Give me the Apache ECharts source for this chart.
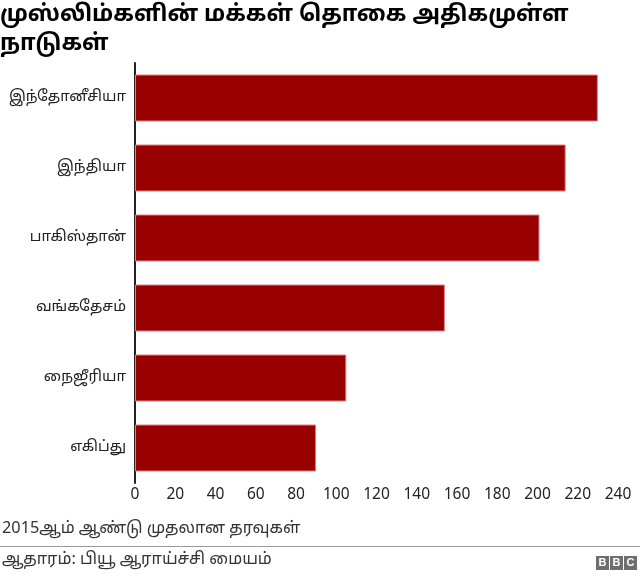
<!DOCTYPE html>
<html>
<head>
<meta charset="utf-8">
<script src="https://cdn.jsdelivr.net/npm/echarts@6/dist/echarts.min.js"></script>
<style>
  html, body { margin: 0; padding: 0; background: #fff; }
  #chart { width: 640px; height: 577px; }
</style>
</head>
<body>
<div id="chart"></div>
<script>
// countries, top to bottom
const countries = ['இந்தோனீசியா', 'இந்தியா', 'பாகிஸ்தான்', 'வங்கதேசம்', 'நைஜீரியா', 'எகிப்து']
// muslim population, millions (2015)
const population = [230, 214, 201, 154, 105, 90]
const xMin = 0
const xMax = 240
const xStep = 20

const titleText = 'முஸ்லிம்களின் மக்கள் தொகை அதிகமுள்ள\nநாடுகள்'
const noteText = '2015ஆம் ஆண்டு முதலான தரவுகள்'
const sourceText = 'ஆதாரம்: பியூ ஆராய்ச்சி மையம்'

const font = "'Noto Sans Tamil', 'Noto Sans', 'Liberation Sans', sans-serif"

const dom = document.getElementById('chart')
const chart = echarts.init(dom, null, { renderer: 'canvas' })

let option = {
  backgroundColor: '#fff',
  animation: false,
  title: {
    text: titleText,
    left: 0,
    top: 2,
    padding: 0,
    textStyle: {
      fontFamily: font,
      fontSize: 22.6,
      fontWeight: 'bold',
      color: '#000',
      lineHeight: 29
    }
  },
  grid: {
    left: 135,
    right: 22,
    top: 63,
    height: 420,
    containLabel: false,
    outerBoundsMode: 'none'
  },
  xAxis: {
    type: 'value',
    min: xMin,
    max: xMax,
    interval: xStep,
    axisLine: { show: false },
    axisTick: { show: false },
    splitLine: { show: false },
    axisLabel: {
      margin: 5,
      fontFamily: font,
      fontSize: 15.5,
      color: '#222'
    }
  },
  yAxis: {
    type: 'category',
    data: countries,
    inverse: true,
    axisLine: { show: true, lineStyle: { color: '#222', width: 2 } },
    axisTick: { show: false },
    axisLabel: {
      margin: 9,
      fontFamily: font,
      fontSize: 15,
      color: '#222'
    }
  },
  series: [{
    type: 'bar',
    data: population,
    barWidth: 47,
    itemStyle: {
      color: '#990000',
      borderColor: '#e58080',
      borderWidth: 1
    }
  }],
  graphic: [
    {
      type: 'text',
      left: 2,
      top: 522,
      style: { text: noteText, font: '16.3px ' + font, fill: '#333' }
    },
    {
      type: 'rect',
      left: 0,
      top: 546,
      shape: { width: 640, height: 1 },
      style: { fill: '#999' }
    },
    {
      type: 'text',
      left: 2,
      top: 553,
      style: { text: sourceText, font: '16.3px ' + font, fill: '#333' }
    },
    {
      type: 'group',
      right: 3,
      top: 556,
      children: ['B', 'B', 'C'].flatMap((ch, i) => [
        { type: 'rect', shape: { x: i * 14, y: 0, width: 13, height: 14 }, style: { fill: '#6e6e6e' } },
        { type: 'text', x: i * 14 + 6.5, y: 7, style: { text: ch, font: 'bold 11px Liberation Sans', fill: '#fff', align: 'center', verticalAlign: 'middle' } }
      ])
    }
  ]
}

chart.setOption(option)
window.addEventListener('resize', () => chart.resize())
</script>
</body>
</html>
